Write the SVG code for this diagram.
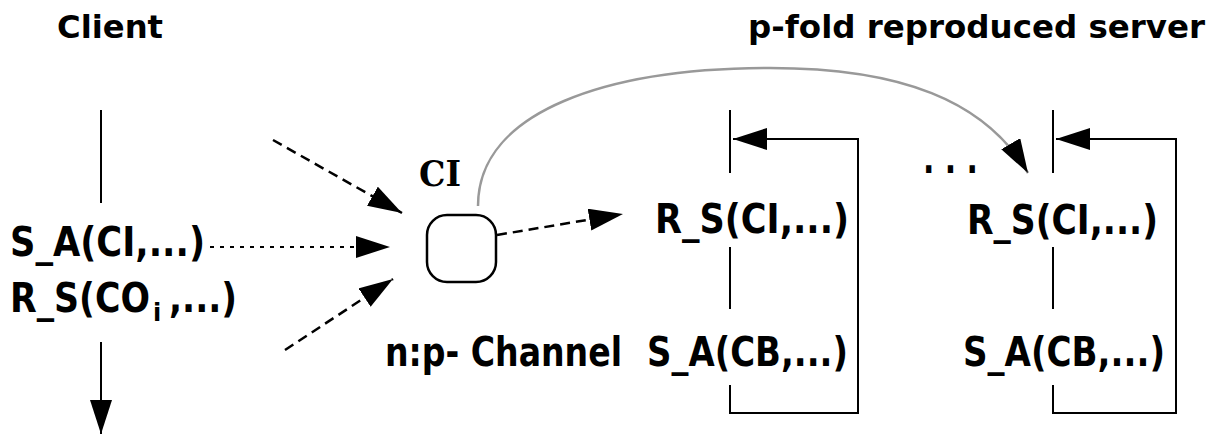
<svg xmlns="http://www.w3.org/2000/svg" width="1215" height="435" viewBox="0 0 1215 435">
<style>
.t{font-family:"DejaVu Sans","Liberation Sans",sans-serif;font-weight:bold;fill:#000}
.title{font-size:32px}
.lbl{font-size:41px}
.lbs{font-size:35px}
.ln{stroke:#000;stroke-width:2;fill:none}
.dash{stroke:#000;stroke-width:2.5;fill:none;stroke-dasharray:10 6}
.dot{stroke:#000;stroke-width:2;fill:none;stroke-dasharray:4 6}
.gray{stroke:#999;stroke-width:2.5;fill:none}
</style>
<defs>
<marker id="ah" markerUnits="userSpaceOnUse" markerWidth="35" markerHeight="23" refX="34" refY="11" orient="auto">
<path d="M0,0 L34,11 L0,22 Z" fill="#000"/>
</marker>
</defs>
<g id="titles">
<text class="t title" x="57" y="38" textLength="106" lengthAdjust="spacingAndGlyphs">Client</text>
<text class="t title" x="748" y="38" textLength="457" lengthAdjust="spacingAndGlyphs">p-fold reproduced server</text>
</g>
<g id="client">
<line class="ln" x1="101" y1="110" x2="101" y2="203"/>
<text class="t lbl" x="10" y="256" textLength="195" lengthAdjust="spacingAndGlyphs">S_A(CI,...)</text>
<text class="t lbs" transform="translate(10,312) scale(1,1.17)" x="0" y="0" textLength="140" lengthAdjust="spacingAndGlyphs">R_S(CO</text>
<text class="t" style="font-size:24px" x="153" y="321">i</text>
<text class="t lbl" x="169" y="312" textLength="68" lengthAdjust="spacingAndGlyphs">,...)</text>
<line class="ln" x1="101" y1="342" x2="101" y2="434" marker-end="url(#ah)"/>
</g>
<g id="channel">
<rect x="427" y="215" width="69" height="67" rx="20" ry="20" fill="#fff" stroke="#000" stroke-width="2.5"/>
<text x="419" y="186" style="font-family:'DejaVu Serif','Liberation Serif',serif;font-weight:bold;font-size:35px" textLength="42" lengthAdjust="spacingAndGlyphs">CI</text>
<text class="t lbs" transform="translate(385,366) scale(1,1.17)" x="0" y="0" textLength="237" lengthAdjust="spacingAndGlyphs">n:p- Channel</text>
</g>
<g id="server1">
<line class="ln" x1="730" y1="110" x2="730" y2="173"/>
<line class="ln" x1="730" y1="247" x2="730" y2="309"/>
<path class="ln" d="M730,385 L730,413 L858,413 L858,139 L733,139" marker-end="url(#ah)"/>
<text class="t lbl" x="655" y="233" textLength="194" lengthAdjust="spacingAndGlyphs">R_S(CI,...)</text>
<text class="t lbl" x="647" y="366" textLength="201" lengthAdjust="spacingAndGlyphs">S_A(CB,...)</text>
</g>
<g id="dots">
<text class="t lbl" x="923" y="173" textLength="55" lengthAdjust="spacingAndGlyphs">. . .</text>
</g>
<g id="server2">
<line class="ln" x1="1053" y1="110" x2="1053" y2="173"/>
<line class="ln" x1="1053" y1="247" x2="1053" y2="309"/>
<path class="ln" d="M1053,385 L1053,413 L1176,413 L1176,139 L1056,139" marker-end="url(#ah)"/>
<text class="t lbl" x="967" y="234" textLength="191" lengthAdjust="spacingAndGlyphs">R_S(CI,...)</text>
<text class="t lbl" x="963" y="366" textLength="202" lengthAdjust="spacingAndGlyphs">S_A(CB,...)</text>
</g>
<g id="connectors">
<line class="dash" x1="273" y1="140" x2="402" y2="213" marker-end="url(#ah)"/>
<line class="dot" x1="210" y1="247" x2="390" y2="247" marker-end="url(#ah)"/>
<line class="dash" x1="285" y1="350" x2="393" y2="279" marker-end="url(#ah)"/>
<line class="dash" x1="497" y1="235" x2="623" y2="214" marker-end="url(#ah)"/>
<path class="gray" d="M478,206 C478,110 610,68 770,68 C900,68 985,100 1028,173" marker-end="url(#ah)"/>
</g>
</svg>
